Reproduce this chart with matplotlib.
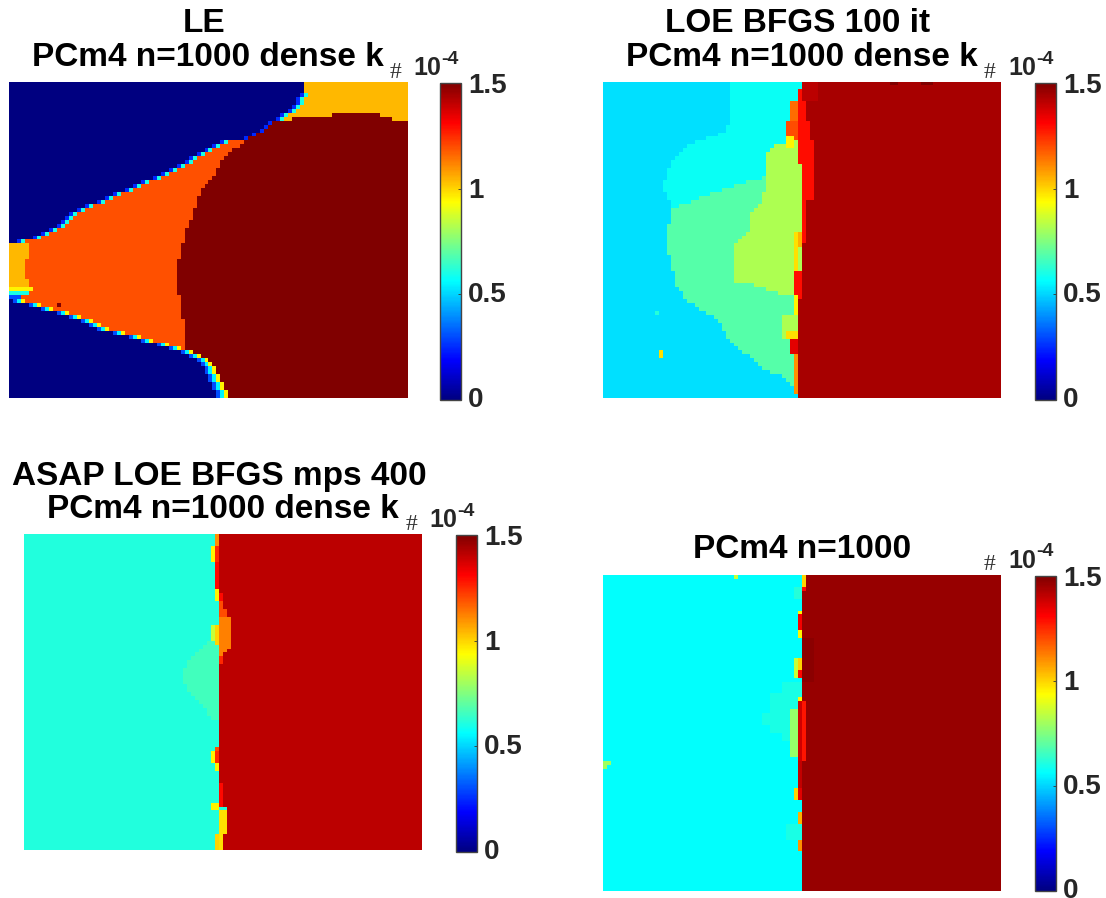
import numpy as np
import matplotlib
matplotlib.use('Agg')
from matplotlib import pyplot as plt
from matplotlib.colors import LinearSegmentedColormap
from matplotlib.transforms import ScaledTranslation

W, H = 1106, 898
N_ROWS, N_COLS = 80, 100
VMAX = 1.5

# LE panel: per row, where the blue ends and where the dark red starts
le_blue_end = [74, 74, 74, 74, 73, 73, 72, 71, 69, 68, 66, 65, 64, 62, 60, 54, 52, 50, 48, 46,
               45, 43, 41, 39, 37, 34, 32, 30, 27, 25, 23, 20, 18, 16, 15, 14, 13, 11, 9, 7,
               3, 0, 0, 0, 0, 0, 0, 0, 0, 0, 0, 0, 0, 0, 0, 3, 7, 10, 14, 17,
               20, 22, 24, 28, 32, 35, 39, 42, 45, 47, 49, 50, 51, 51, 52, 52, 53, 53, 54, 54]
le_dark_start = [100, 100, 100, 100, 100, 100, 100, 100, 81, 71, 66, 65, 64, 62, 60, 59, 58, 56, 55, 54,
                 53, 53, 52, 52, 51, 50, 49, 48, 48, 47, 47, 47, 46, 46, 46, 45, 45, 44, 44, 44,
                 44, 43, 43, 43, 43, 42, 42, 42, 42, 42, 42, 42, 42, 42, 43, 43, 43, 43, 43, 43,
                 44, 44, 44, 44, 44, 44, 44, 44, 46, 48, 50, 51, 52, 52, 53, 53, 54, 54, 55, 55]
le_levels = [0.0, 1.19, 1.5, 1.04]
# row from, row to, col from, col to, value
le_patches = [(41, 45, 0, 5, 1.04), (45, 50, 0, 4, 1.04), (50, 52, 0, 5, 1.04),
              (52, 53, 0, 6, 0.95), (53, 54, 0, 5, 0.6), (54, 55, 0, 3, 0.3),
              (8, 9, 93, 100, 1.04), (9, 10, 96, 100, 1.04), (56, 57, 12, 13, 1.5)]

# LOE BFGS panel
loe_c1 = [32, 32, 32, 32, 32, 32, 32, 32, 32, 32, 32, 31, 31, 29, 26, 23, 21, 20, 19, 18,
          17, 17, 16, 16, 16, 15, 15, 15, 16, 16, 17, 17, 17, 17, 17, 17, 16, 16, 16, 16,
          16, 16, 16, 16, 17, 17, 17, 17, 18, 18, 18, 18, 19, 20, 20, 21, 23, 24, 26, 28,
          29, 30, 30, 31, 31, 32, 33, 34, 35, 37, 38, 39, 40, 42, 45, 46, 47, 48, 48, 49]
loe_c2 = [40, 36, 33, 30, 27, 24, 22, 19, 17]  # rows 24 to 32
loe_c3 = [60, 60, 60, 60, 60, 60, 60, 60, 60, 60, 60, 60, 60, 60, 60, 46, 43, 42, 41, 41,
          41, 41, 41, 41, 41, 41, 41, 41, 40, 40, 40, 39, 38, 37, 37, 37, 37, 37, 36, 35,
          34, 33, 33, 33, 33, 33, 33, 33, 33, 33, 33, 38, 41, 44, 48, 60, 60, 60, 60, 60,
          60, 60, 60, 60, 60, 60, 60, 60, 60, 60, 60, 60, 60, 60, 60, 60, 60, 60, 60, 60]
loe_edge = [50, 50, 49, 49, 49, 49, 49, 49, 49, 49, 49, 49, 49, 49, 49, 49, 49, 49, 49, 49,
            49, 50, 50, 50, 50, 50, 50, 50, 50, 50, 50, 50, 50, 50, 50, 50, 50, 50, 50, 50,
            50, 50, 50, 50, 50, 50, 50, 50, 48, 48, 48, 48, 48, 48, 48, 49, 49, 49, 49, 49,
            49, 49, 49, 49, 49, 49, 49, 49, 49, 49, 49, 49, 49, 49, 49, 49, 49, 49, 49, 49]
loe_dark = [50, 50, 50, 50, 50, 51, 51, 51, 51, 51, 52, 52, 52, 52, 52, 53, 53, 53, 53, 53,
            53, 53, 53, 53, 53, 53, 53, 53, 53, 53, 51, 51, 51, 51, 51, 51, 51, 51, 51, 51,
            51, 50, 50, 50, 50, 50, 50, 50, 50, 50, 50, 50, 50, 50, 50, 49, 49, 49, 49, 49,
            49, 49, 49, 49, 49, 49, 49, 49, 49, 49, 49, 49, 49, 49, 49, 49, 49, 49, 49, 49]
loe_levels = [0.516, 0.58, 0.69, 0.82, 1.29, 1.44]
loe_patches = [(0, 5, 50, 54, 1.41), (5, 11, 47, 49, 1.15), (10, 15, 46, 49, 1.2), (14, 17, 46, 48, 0.95),
               (38, 48, 48, 49, 0.98), (38, 42, 49, 50, 1.05), (54, 59, 48, 49, 0.95), (59, 65, 45, 49, 0.82),
               (63, 65, 46, 49, 0.98), (65, 69, 47, 49, 1.35), (69, 79, 48, 49, 1.1),
               (58, 59, 13, 14, 0.62), (68, 70, 14, 15, 0.98), (0, 1, 72, 74, 1.5), (0, 1, 80, 83, 1.5)]

# ASAP panel
asap_edge = [48, 48, 48, 48, 48, 48, 48, 48, 48, 48, 48, 48, 48, 48, 48, 49, 49, 50, 50, 51,
             51, 52, 52, 52, 52, 52, 52, 52, 52, 51, 50, 50, 49, 49, 49, 49, 49, 49, 49, 49,
             49, 49, 49, 49, 49, 49, 49, 49, 49, 49, 49, 49, 49, 49, 49, 49, 49, 49, 49, 49,
             49, 49, 49, 50, 50, 50, 50, 50, 50, 51, 51, 51, 51, 51, 51, 51, 50, 50, 50, 50]
asap_faint = [46, 45, 44, 43, 42, 41, 41, 40, 40, 40, 40, 41, 41, 42, 43, 44, 45, 46, 46, 47]  # rows 27 to 46
asap_levels = [0.61, 0.66, 1.41]
asap_patches = [(0, 3, 48, 49, 1.1), (3, 7, 47, 48, 0.95), (3, 7, 48, 49, 1.25), (7, 14, 48, 49, 1.3),
                (14, 17, 48, 49, 0.95), (15, 17, 49, 50, 1.3), (17, 19, 49, 50, 1.2), (19, 21, 49, 51, 1.2),
                (21, 29, 49, 52, 1.12), (29, 30, 49, 51, 1.12), (30, 31, 49, 50, 1.12),
                (23, 27, 47, 48, 0.85), (23, 28, 48, 49, 1.0), (31, 33, 49, 50, 1.25),
                (54, 55, 48, 49, 1.2), (55, 58, 47, 48, 0.95), (55, 58, 48, 49, 1.25), (58, 60, 48, 49, 0.95),
                (63, 69, 49, 50, 1.3), (68, 70, 47, 49, 0.95), (70, 76, 49, 51, 0.98), (76, 80, 49, 50, 0.98),
                (76, 80, 48, 49, 1.0)]

# PCm4 panel
pc_edge = 50
pc_levels = [0.5625, 1.46]
pc_patches = [(0, 1, 33, 34, 0.85), (0, 3, 50, 51, 1.0), (3, 4, 50, 51, 1.3), (3, 6, 48, 50, 0.62),
              (9, 10, 49, 50, 0.95), (10, 14, 49, 50, 1.32), (14, 16, 49, 50, 0.95),
              (21, 26, 48, 49, 0.85), (21, 26, 49, 50, 1.0), (24, 26, 49, 50, 1.3),
              (27, 30, 45, 50, 0.6), (30, 35, 42, 50, 0.6), (35, 38, 40, 50, 0.6), (38, 40, 42, 50, 0.6),
              (40, 42, 45, 50, 0.6), (31, 32, 49, 50, 0.95), (32, 47, 49, 50, 1.38), (32, 47, 50, 51, 1.28),
              (34, 46, 47, 49, 0.78), (47, 54, 49, 50, 1.4), (54, 57, 48, 49, 1.0), (54, 57, 49, 50, 1.35),
              (60, 63, 49, 50, 1.05), (63, 67, 46, 50, 0.6), (67, 70, 49, 50, 1.1),
              (47, 48, 0, 2, 0.8), (48, 49, 0, 1, 0.8), (16, 27, 50, 53, 1.48)]

titles = [['LE', 'PCm4 n=1000 dense k'],
          ['LOE BFGS 100 it', 'PCm4 n=1000 dense k'],
          ['ASAP LOE BFGS mps 400', 'PCm4 n=1000 dense k'],
          ['PCm4 n=1000']]
cbar_ticks = [0, 0.5, 1, 1.5]
cbar_labels = ['0', '0.5', '1', '1.5']
label_shift = [3, 2, 1, 0]  # labels sit a little above their ticks, more at the bottom

# matlab style jet
jet = LinearSegmentedColormap.from_list('mjet', [(0, '#000080'), (1/8, '#0000ff'), (3/8, '#00ffff'),
                                                 (5/8, '#ffff00'), (7/8, '#ff0000'), (1, '#800000')], N=256)

def patch(grid, patches):
    for r0, r1, c0, c1, v in patches:
        grid[r0:r1, c0:c1] = v

def le_grid():
    g = np.zeros((N_ROWS, N_COLS))
    for r in range(N_ROWS):
        be, ds = le_blue_end[r], le_dark_start[r]
        g[r, be:ds] = le_levels[3] if r < 10 else le_levels[1]
        g[r, ds:] = le_levels[2]
        if 3 <= r < 41:
            g[r, be-1] = 0.25
            if be < ds:
                g[r, be] = 0.6
        elif r >= 55:
            g[r, max(be-2, 0)] = 0.3
            g[r, be-1] = 0.55
            if be < ds:
                g[r, be] = 0.95
    patch(g, le_patches)
    return g

def loe_grid():
    g = np.full((N_ROWS, N_COLS), loe_levels[0])
    for r in range(N_ROWS):
        g[r, loe_c1[r]:] = loe_levels[1]
        if r >= 33:
            g[r, loe_c1[r]:] = loe_levels[2]
        elif r >= 24:
            g[r, loe_c2[r-24]:] = loe_levels[2]
        g[r, loe_c3[r]:] = loe_levels[3]
        g[r, loe_edge[r]:] = loe_levels[4]
        g[r, loe_dark[r]:] = loe_levels[5]
    patch(g, loe_patches)
    return g

def asap_grid():
    g = np.full((N_ROWS, N_COLS), asap_levels[0])
    for r in range(N_ROWS):
        if 27 <= r <= 46:
            g[r, asap_faint[r-27]:] = asap_levels[1]
        g[r, asap_edge[r]:] = asap_levels[2]
    patch(g, asap_patches)
    return g

def pc_grid():
    g = np.full((N_ROWS, N_COLS), pc_levels[0])
    g[:, pc_edge:] = pc_levels[1]
    patch(g, pc_patches)
    return g

fig = plt.figure(figsize=(W/100, H/100), dpi=100)

def px_axes(x0, y0, x1, y1):
    return fig.add_axes([x0/W, 1-y1/H, (x1-x0)/W, (y1-y0)/H])

def px_text(x, y, s, **kw):
    fig.text(x/W, 1-y/H, s, **kw)

def panel(grid, x0, y0, cx, title_pos, bar_h=318):
    ax = px_axes(x0, y0, x0+398, y0+316)
    im = ax.imshow(grid, cmap=jet, vmin=0, vmax=VMAX, aspect='auto', interpolation='nearest')
    ax.axis('off')
    cax = px_axes(cx, y0+1, cx+21, y0+bar_h)
    cb = fig.colorbar(im, cax=cax)
    cb.set_ticks(cbar_ticks)
    cb.set_ticklabels(cbar_labels)
    cb.ax.tick_params(direction='in', length=2, width=0.6, color='#333333', pad=5,
                      labelsize=20, labelcolor='#262626')
    for t, s in zip(cb.ax.get_yticklabels(), label_shift):
        t.set_fontfamily('Liberation Sans')
        t.set_fontweight('bold')
        t.set_transform(t.get_transform() + ScaledTranslation(0, s/100, fig.dpi_scale_trans))
    cb.outline.set_edgecolor('#444444')
    cb.outline.set_linewidth(1.0)
    px_text(cx-45, y0-10, '#', family='Liberation Serif', fontsize=17, color='#333333', ha='center', va='center')
    px_text(cx-27, y0-14, '10', family='Liberation Sans', fontweight='bold', fontsize=18, color='#262626', ha='left', va='center')
    px_text(cx+1, y0-23, '-4', family='Liberation Sans', fontweight='bold', fontsize=14, color='#262626', ha='left', va='center')
    for (tx, ty), line in zip(title_pos, titles[panel.n]):
        px_text(tx, ty, line, family='Liberation Sans', fontweight='bold', fontsize=24, color='black', ha='center', va='center')
    panel.n += 1

panel.n = 0
panel(le_grid(), 9, 82, 440, [(204, 24), (208, 57)])
panel(loe_grid(), 603, 82, 1035, [(798, 24), (802, 57)])
panel(asap_grid(), 24, 534, 456, [(219, 476), (223, 510)])
panel(pc_grid(), 603, 575, 1035, [(802, 549)], bar_h=316)

fig.savefig('out.png', dpi=100)
